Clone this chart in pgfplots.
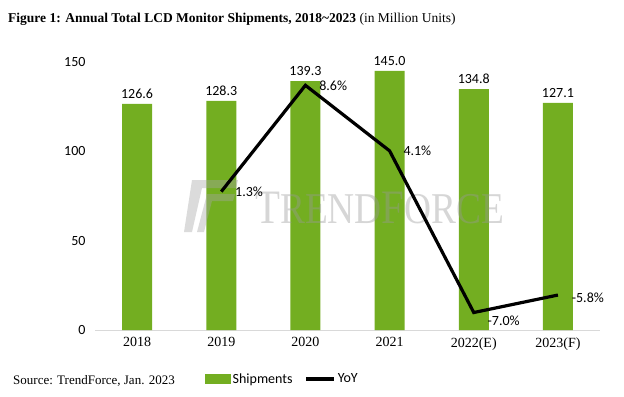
\documentclass[border=0pt]{standalone}
\usepackage{pgfplots}
\pgfplotsset{compat=1.18}
\usepackage{pgfplotstable}
\usepackage{fontspec}
\setmainfont{Liberation Serif}
\newfontfamily\calfont{Carlito}
\definecolor{barg}{RGB}{115,174,33}
\definecolor{axg}{RGB}{217,217,217}
\pgfplotsset{/pgf/number format/assume math mode=true}

\pgfplotstableread{
x y
0 126.6
1 128.3
2 139.3
3 145.0
4 134.8
5 127.1
}\shipments

\pgfplotstableread{
x y lab dy
1 1.3 1.3 0
2 8.6 8.6 0
3 4.1 4.1 0
4 -7.0 -7.0 -8
5 -5.8 -5.8 -3
}\yoy

\begin{document}
\begin{tikzpicture}[x=1bp,y=1bp]
\path[use as bounding box] (0,0) rectangle (624,396);
\node[anchor=base west, inner sep=0pt, font=\fontsize{13.5bp}{15bp}\selectfont] at (8,374)
  {\textbf{Figure 1: Annual Total LCD Monitor Shipments, 2018\textasciitilde2023} (in Million Units)};
\begin{axis}[
  at={(95bp,66bp)}, anchor=south west, scale only axis,
  width=505bp, height=268bp,
  xmin=-0.5, xmax=5.5, ymin=0, ymax=150,
  ytick={0,50,100,150},
  xtick={0,1,2,3,4,5},
  xticklabels={2018,2019,2020,2021,2022(E),2023(F)},
  axis x line*=bottom, axis y line*=left,
  x axis line style={draw=axg, line width=1bp, -},
  y axis line style={draw=none},
  major tick length=0pt,
  yticklabel style={font=\calfont\fontsize{14bp}{16bp}\selectfont, xshift=-6bp},
  xticklabel style={font=\fontsize{14bp}{16bp}\selectfont, yshift=-4bp},
  ybar, bar width=30bp,
  nodes near coords={\pgfmathprintnumber[fixed,fixed zerofill,precision=1]{\pgfplotspointmeta}},
  every node near coord/.append style={font=\calfont\fontsize{14bp}{16bp}\selectfont, yshift=2bp},
]
\addplot[fill=barg, draw=none] table[x=x,y=y] {\shipments};
\end{axis}
% watermark
\begin{scope}[opacity=0.4]
\fill[gray!70] (192,216) -- (238,216) -- (236,208) -- (202,208) -- (192,164) -- (184,164) -- cycle;
\fill[gray!70] (207,202) -- (235,202) -- (233,195) -- (212,195) -- (204,164) -- (197,164) -- cycle;
\node[anchor=base west, inner sep=0pt, text=gray!80, xscale=0.85, transform shape] at (255,173)
  {\fontsize{48bp}{48bp}\selectfont T\fontsize{44bp}{44bp}\selectfont REND\fontsize{48bp}{48bp}\selectfont F\fontsize{44bp}{44bp}\selectfont ORCE};
\end{scope}
\begin{axis}[
  at={(95bp,66bp)}, anchor=south west, scale only axis,
  width=505bp, height=268bp,
  xmin=-0.5, xmax=5.5, ymin=-8.2, ymax=10.2,
  hide axis,
  clip=false,
  legend style={at={(0.218,-0.183)}, anchor=west, draw=none, fill=none,
    legend columns=2, font=\calfont\fontsize{14bp}{16bp}\selectfont,
    /tikz/every even column/.append style={column sep=10bp}, inner sep=0pt},
  legend cell align=left,
]
\addlegendimage{legend image code/.code={\fill[barg] (0bp,-4.5bp) rectangle (25bp,4.5bp);}}
\addlegendentry{Shipments}
\addplot[black, line width=3.2bp, line join=miter,
  point meta=explicit symbolic,
  visualization depends on=\thisrow{dy}\as\dy,
  nodes near coords={\pgfplotspointmeta\%},
  every node near coord/.append style={anchor=west, xshift=9bp, yshift=\dy bp, font=\calfont\fontsize{14bp}{16bp}\selectfont},
  legend image code/.code={\draw[black, line width=3.2bp] (0bp,0bp) -- (28bp,0bp);}
] table[x=x,y=y,meta=lab] {\yoy};
\addlegendentry{YoY}
\end{axis}
\node[anchor=base west, inner sep=0pt, font=\fontsize{13bp}{14bp}\selectfont] at (13,12) {Source: TrendForce, Jan. 2023};
\end{tikzpicture}
\end{document}
